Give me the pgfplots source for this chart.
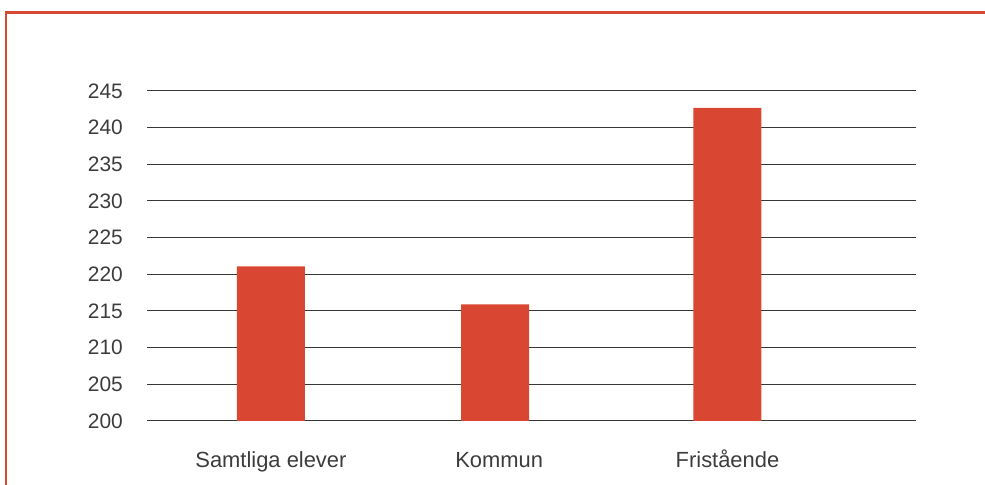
\documentclass[border=0pt]{standalone}
\usepackage{pgfplots}
\pgfplotsset{compat=1.18}
\usepackage{fontspec}
\setmainfont{Liberation Sans}
\definecolor{barred}{RGB}{217,71,50}
\definecolor{framered}{RGB}{214,72,52}
\definecolor{txt}{RGB}{60,60,60}
\definecolor{gridc}{RGB}{55,55,55}
\begin{document}
\begin{tikzpicture}[x=1bp,y=1bp]
\path[use as bounding box] (0,0) rectangle (985,485);
\draw[framered, line width=2.5bp] (6,0) -- (6,472.5) -- (986,472.5);
\begin{axis}[
  at={(147bp,64bp)}, anchor=south west,
  scale only axis, width=769bp, height=330bp,
  xmin=-0.543, xmax=2.826,
  ymin=200, ymax=245,
  ytick={200,205,...,245},
  xtick={0,1,2},
  xticklabels={Samtliga elever,Kommun,Fristående},
  axis line style={draw=none},
  major tick length=0pt,
  ymajorgrids,
  grid style={gridc, line width=1bp},
  /pgf/number format/assume math mode=true,
  yticklabel style={anchor=east, inner sep=0pt, xshift=-24bp, text=txt, font=\fontsize{21}{21}\selectfont},
  xticklabel style={anchor=base, inner sep=0pt, yshift=-47bp, text=txt, font=\fontsize{22}{22}\selectfont},
  clip=false,
]
\addplot[ybar, bar width=0.298, fill=barred, draw=none, bar shift=0pt] coordinates {
  (0,221.1) (0.982,215.9) (2,242.7)
};
\end{axis}
\end{tikzpicture}
\end{document}
